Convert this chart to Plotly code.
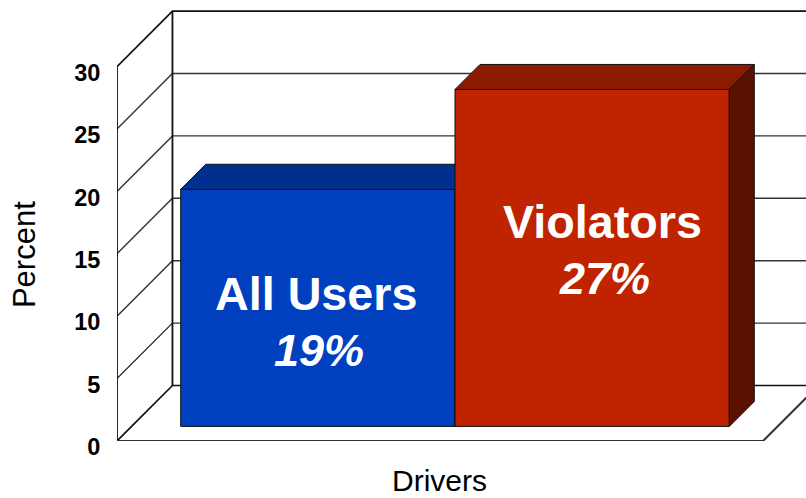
import plotly.graph_objects as go

# ---- data ----
categories = ["All Users", "Violators"]
values = [19, 27]
value_labels = ["19%", "27%"]
y_ticks = [0, 5, 10, 15, 20, 25, 30]
y_title = "Percent"
x_title = "Drivers"

# ---- styling / geometry (axis units: x = one bar width, y = percent) ----
W, H = 806, 498
PX_X = 274.5          # pixels per x unit
PX_Y = 12.48          # pixels per percent
CX0 = 317.5           # pixel of first category centre
Y0 = 441              # pixel of y = 0
LEFT = 116.5
FLOOR_RIGHT = 763
fx = lambda px: (px - CX0) / PX_X
fy = lambda py: (Y0 - py) / PX_Y
paper_x = lambda px: (px - LEFT) / (W - LEFT)
paper_y = lambda py: (Y0 - py) / Y0

x_lo, x_hi = fx(LEFT), fx(W)
y_lo, y_hi = 0, fy(0)
x_right = fx(FLOOR_RIGHT)
WALL_DX, WALL_DY = 55.5 / PX_X, 55.5 / PX_Y
BAR_DX, BAR_DY = 25 / PX_X, 25 / PX_Y
BAR_BASE = 1.17
EDGE = "#111111"
FONT = "Liberation Sans, Arial, sans-serif"

face = ["#0040BF", "#BF2300"]
top = ["#00308F", "#8C1A00"]
side = ["#002060", "#5C1000"]
label_px = [(316, 294, 350, 318.5), (602.5, 222, 278, 604.5)]

fig = go.Figure()


def line(xs, ys, color="#333333", width=1.4):
    fig.add_trace(go.Scatter(x=xs, y=ys, mode="lines", showlegend=False, hoverinfo="skip",
                             line=dict(color=color, width=width)))


# walls and floor
for v in y_ticks:
    line([x_lo, x_lo + WALL_DX, fx(W) + WALL_DX], [v, v + WALL_DY, v + WALL_DY],
         color="#111111" if v in (0, 30) else "#333333", width=1.7 if v in (0, 30) else 1.4)
line([x_lo, x_lo], [0, y_ticks[-1]], color="#111111", width=1.8)
line([x_lo + WALL_DX, x_lo + WALL_DX], [WALL_DY, y_ticks[-1] + WALL_DY], color="#111111", width=1.8)
line([x_lo, x_right, x_right + WALL_DX], [0, 0, WALL_DY], color="#333333", width=2)

# bars, each on its own overlaying axes pair so nearer bars paint over earlier ones
for i, (cat, val) in enumerate(zip(categories, values)):
    ax = str(i + 2)
    xa, ya = "x" + ax, "y" + ax
    l, r = i - 0.5, i + 0.5
    t = BAR_BASE + val
    b = BAR_BASE
    fig.add_trace(go.Bar(x=[i], y=[val], base=[b], width=[1], xaxis=xa, yaxis=ya, showlegend=False,
                         hoverinfo="skip", marker=dict(color=face[i], line=dict(color=EDGE, width=1))))
    fig.add_trace(go.Scatter(x=[l, l + BAR_DX, r + BAR_DX, r, l], y=[t, t + BAR_DY, t + BAR_DY, t, t],
                             xaxis=xa, yaxis=ya, mode="lines", fill="toself", fillcolor=top[i],
                             line=dict(color=EDGE, width=1), showlegend=False, hoverinfo="skip"))
    fig.add_trace(go.Scatter(x=[r, r + BAR_DX, r + BAR_DX, r, r],
                             y=[t, t + BAR_DY, b + BAR_DY, b, t],
                             xaxis=xa, yaxis=ya, mode="lines", fill="toself", fillcolor=side[i],
                             line=dict(color=EDGE, width=1), showlegend=False, hoverinfo="skip"))

annotations = []
for i, (cat, lab) in enumerate(zip(categories, value_labels)):
    px, py1, py2, px2 = label_px[i]
    annotations.append(dict(x=paper_x(px), y=paper_y(py1), text="<b>%s</b>" % cat,
                            font=dict(family=FONT, size=46.7, color="white")))
    annotations.append(dict(x=paper_x(px2), y=paper_y(py2), text="<b><i>%s</i></b>" % lab,
                            font=dict(family=FONT, size=45, color="white")))
annotations.append(dict(x=paper_x(439.5), y=paper_y(480.5), text=x_title,
                        font=dict(family=FONT, size=30, color="black")))
annotations.append(dict(x=paper_x(24), y=paper_y(254.5), text=y_title, textangle=-90,
                        font=dict(family=FONT, size=31, color="black")))
for a in annotations:
    a.update(xref="paper", yref="paper", xanchor="center", yanchor="middle", showarrow=False)

hidden = dict(visible=False, fixedrange=True)
fig.update_layout(
    width=W, height=H, autosize=False,
    margin=dict(l=LEFT, r=0, t=0, b=H - Y0, pad=0),
    paper_bgcolor="white", plot_bgcolor="white",
    barmode="overlay", showlegend=False,
    annotations=annotations,
    xaxis=dict(range=[x_lo, x_hi], visible=False, fixedrange=True),
    yaxis=dict(range=[y_lo, y_hi], tickvals=y_ticks, ticktext=["<b>%d</b>" % v for v in y_ticks],
               showgrid=False, zeroline=False, showline=False, fixedrange=True,
               ticks="outside", ticklen=11, tickcolor="rgba(0,0,0,0)", ticklabelshift=6,
               tickfont=dict(family=FONT, size=23.5, color="black")),
    xaxis2=dict(overlaying="x", range=[x_lo, x_hi], **hidden),
    yaxis2=dict(overlaying="y", range=[y_lo, y_hi], **hidden),
    xaxis3=dict(overlaying="x", range=[x_lo, x_hi], **hidden),
    yaxis3=dict(overlaying="y", range=[y_lo, y_hi], **hidden),
)
fig.write_html("out.html", config=dict(displayModeBar=False),
               post_script="document.body.style.margin='0';document.body.style.overflow='hidden';")
